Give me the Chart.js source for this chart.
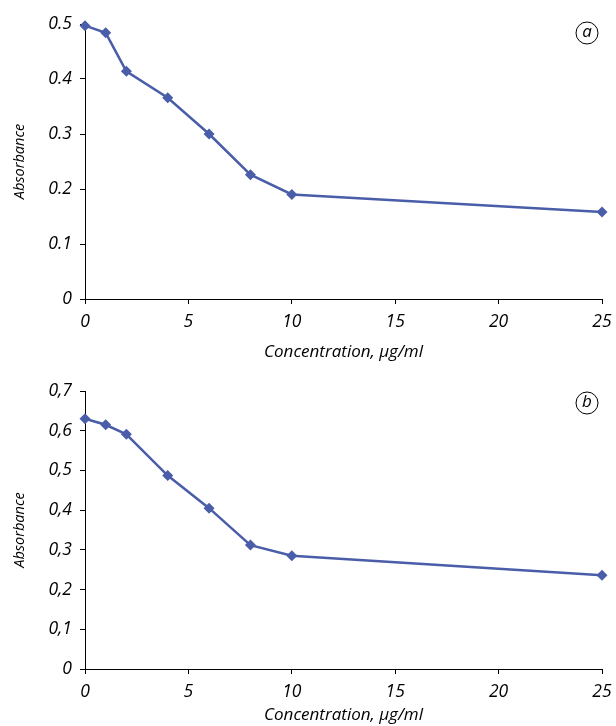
<!DOCTYPE html>
<html>
<head>
<meta charset="utf-8">
<script src="https://cdn.jsdelivr.net/npm/chart.js@4"></script>
<style>
  html, body { margin: 0; padding: 0; background: #fff; }
  .wrap { position: absolute; left: 0; width: 616px; height: 363px; }
  #boxA { top: 0; }
  #boxB { top: 363px; }
</style>
</head>
<body>
<div class="wrap" id="boxA"><canvas id="chartA"></canvas></div>
<div class="wrap" id="boxB"><canvas id="chartB"></canvas></div>
<script>
const concentration = [0, 1, 2, 4, 6, 8, 10, 25];
const absorbanceA = [0.497, 0.484, 0.414, 0.366, 0.300, 0.226, 0.190, 0.158];
const absorbanceB = [0.630, 0.615, 0.591, 0.487, 0.405, 0.312, 0.285, 0.236];
const xTicks = [0, 5, 10, 15, 20, 25];
const yTicksA = ['0', '0.1', '0.2', '0.3', '0.4', '0.5'];
const yTicksB = ['0', '0,1', '0,2', '0,3', '0,4', '0,5', '0,6', '0,7'];

const lineColor = '#4a5da9';
const font = { family: 'Open Sans', style: 'italic', size: 17.5 };

const panelLetter = {
  id: 'panelLetter',
  afterDraw(chart, args, opts) {
    const c = chart.ctx;
    const a = chart.chartArea;
    const x = a.right - 15, y = a.top + opts.dy;
    c.save();
    c.beginPath();
    c.arc(x, y, 11, 0, Math.PI * 2);
    c.strokeStyle = '#000';
    c.lineWidth = 1;
    c.stroke();
    c.fillStyle = '#000';
    c.font = 'italic 17px "Open Sans"';
    c.textAlign = 'center';
    c.textBaseline = 'middle';
    c.fillText(opts.text, x, y - 1);
    c.restore();
  }
};

function makeChart(id, values, yLabels, topPad, xHeight, letter, dy) {
  const yMax = (yLabels.length - 1) / 10;
  new Chart(document.getElementById(id), {
    type: 'line',
    data: {
      datasets: [{
        data: concentration.map((c, i) => ({ x: c, y: values[i] })),
        borderColor: lineColor,
        backgroundColor: lineColor,
        borderWidth: 2.5,
        pointStyle: 'rectRot',
        pointRadius: 5.5,
        pointBorderWidth: 0,
        tension: 0,
        clip: false
      }]
    },
    options: {
      responsive: true,
      maintainAspectRatio: false,
      animation: false,
      layout: { padding: { top: topPad, right: 14, left: 0, bottom: 0 } },
      plugins: {
        legend: { display: false },
        tooltip: { enabled: false },
        panelLetter: { text: letter, dy: dy }
      },
      scales: {
        x: {
          type: 'linear',
          min: 0,
          max: 25,
          afterBuildTicks: s => { s.ticks = xTicks.map(v => ({ value: v })); },
          afterFit: s => { s.height = xHeight; s.paddingRight = 0; s.paddingLeft = 0; },
          border: { color: '#000', width: 1 },
          grid: { drawOnChartArea: false, tickLength: 5, color: '#000' },
          ticks: { color: '#000', font: font, padding: 8, maxRotation: 0 },
          title: { display: true, text: 'Concentration, µg/ml', color: '#000', font: { family: 'Open Sans', style: 'italic', size: 17 }, padding: { top: 4, bottom: 1 } }
        },
        y: {
          min: 0,
          max: yMax,
          afterBuildTicks: s => { s.ticks = yLabels.map((t, i) => ({ value: i / 10 })); },
          afterFit: s => { s.width = 85; },
          border: { color: '#000', width: 1 },
          grid: { drawOnChartArea: false, tickLength: 5, color: '#000' },
          ticks: { color: '#000', font: font, padding: 8, callback: (v, i) => yLabels[i] },
          title: { display: true, text: 'Absorbance', color: '#000', font: { family: 'Open Sans', style: 'italic', size: 14.5 }, padding: { top: 11, bottom: 4 } }
        }
      }
    },
    plugins: [panelLetter]
  });
}

makeChart('chartA', absorbanceA, yTicksA, 24, 64, 'a', 9);
makeChart('chartB', absorbanceB, yTicksB, 28, 57, 'b', 12);
</script>
</body>
</html>
